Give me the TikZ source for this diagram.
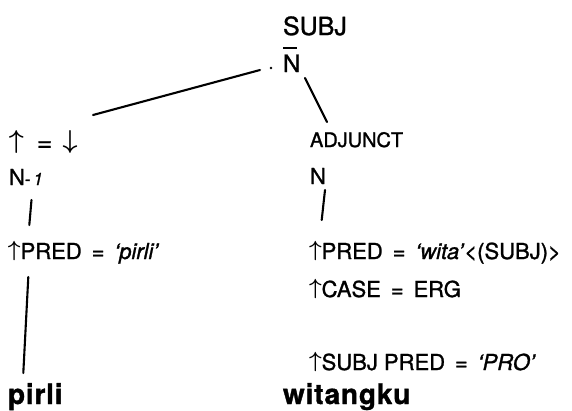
\RequirePackage{fix-cm}
\documentclass[tikz,border=0pt]{standalone}
\usepackage{fontspec}
\setmainfont{TeX Gyre Heros}[FakeBold=1.2, BoldFeatures={LetterSpace=3}]

\newcommand\fup{\raisebox{2.5pt}{$\boldsymbol{\uparrow}$}}
\newcommand\fdown{\raisebox{2.5pt}{$\boldsymbol{\downarrow}$}}
\newcommand\feq{\hspace{0.45em}=\hspace{0.45em}}
\newcommand\nbar{\rlap{\rule[23pt]{14pt}{2.4pt}}N}
\usepackage{amsmath,bm}

\begin{document}
\begin{tikzpicture}[x=1pt, y=-1pt,
    cat/.style={inner sep=0pt, outer sep=0pt, anchor=base west, font=\fontsize{22}{26}\selectfont},
    fstr/.style={inner sep=0pt, outer sep=0pt, anchor=base west, font=\fontsize{22}{26}\selectfont},
    word/.style={inner sep=0pt, outer sep=0pt, anchor=base west, font=\fontsize{28}{32}\selectfont\bfseries},
    branch/.style={line width=2.1pt, line cap=round}
]
\useasboundingbox (0,0) rectangle (572,410);

% Mother node
\node[cat, font=\fontsize{25}{30}\selectfont] (subj) at (283,35) {SUBJ};
\node[cat, font=\fontsize{24}{28}\selectfont] (nbar) at (283,72) {\nbar};

% Left daughter
\node[fstr, font=\fontsize{26}{30}\selectfont] (eq) at (9,151) {\fup\hspace{0.5em}=\hspace{0.4em}\fdown};
\node[cat] (n1) at (9,185) {N{\fontsize{17}{20}\selectfont -\,\textit{1}}};
\node[fstr] (predl) at (8,259) {\fup PRED\feq\textit{`pirli'}};
\node[word] (pirli) at (8,404) {pirli};

% Right daughter
\node[cat, font=\fontsize{20}{24}\selectfont] (adjunct) at (310,147) {ADJUNCT};
\node[cat] (nr) at (310,184) {N};
\node[fstr] (predr) at (309,259) {\fup PRED\feq\textit{`wita'}<(SUBJ)>};
\node[fstr] (caser) at (309,297) {\fup CASE\feq ERG};
\node[fstr] (subjpredr) at (309,370) {\fup SUBJ PRED\feq\textit{`PRO'}};
\node[word] (witangku) at (283,404) {witangku};

% Branches
\draw[branch] ([shift={(84pt,36pt)}]eq.base west) -- ([shift={(-23pt,2pt)}]nbar.base west);
\fill ([shift={(-12pt,4pt)}]nbar.base west) circle (1.3pt);
\draw[branch] ([shift={(22pt,-6pt)}]nbar.base west) -- ([shift={(17pt,25pt)}]adjunct.base west);
\draw[branch] ([shift={(22.5pt,-15pt)}]n1.base west) -- ([shift={(21.3pt,34pt)}]predl.base west);
\draw[branch] ([shift={(20.3pt,-18pt)}]predl.base west) -- ([shift={(15.3pt,31pt)}]pirli.base west);
\draw[branch] ([shift={(15pt,-6pt)}]nr.base west) -- ([shift={(12.7pt,39pt)}]predr.base west);

\end{tikzpicture}
\end{document}
